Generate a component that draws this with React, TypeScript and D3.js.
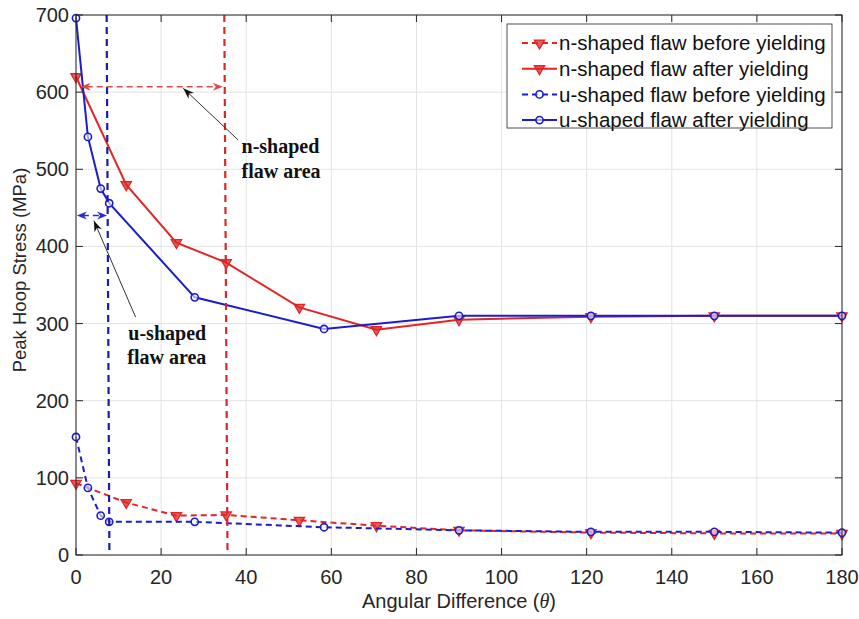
import React, { useRef, useEffect } from "react";
import * as d3 from "d3";

// angles (deg) and peak hoop stress (MPa)
const nAngles = [0, 11.8, 23.6, 35.3, 52.5, 70.6, 90, 121, 150, 180];
const nBefore = [93, 68, 51, 52, 45, 38, 32, 29, 28, 28];
const nAfter = [620, 480, 405, 379, 321, 292, 305, 309, 310, 310];

const uAngles = [0, 2.8, 5.8, 7.8, 27.9, 58.3, 90, 121, 150, 180];
const uBefore = [153, 87, 51, 43, 43, 36, 32, 30, 30, 29];
const uAfter = [696, 542, 475, 456, 334, 293, 310, 310, 310, 310];

const xTicks = [0, 20, 40, 60, 80, 100, 120, 140, 160, 180];
const yTicks = [0, 100, 200, 300, 400, 500, 600, 700];

const legendLabels = [
  "n-shaped flaw before yielding",
  "n-shaped flaw after yielding",
  "u-shaped flaw before yielding",
  "u-shaped flaw after yielding",
];

// flaw area limits (deg), top and bottom end of the dashed line
const nLimit = [34.85, 35.6];
const uLimit = [7.2, 7.85];

const RED = "#e02626";
const BLUE = "#1c1ccc";

function App() {
  const ref = useRef<SVGSVGElement>(null);

  const W = 859,
    H = 619;
  const margin = { top: 15, right: 17, bottom: 64, left: 76 };

  useEffect(() => {
    const svg = d3.select(ref.current);
    svg.selectAll("*").remove();

    const x = d3.scaleLinear().domain([0, 180]).range([margin.left, W - margin.right]);
    const y = d3.scaleLinear().domain([0, 700]).range([H - margin.bottom, margin.top]);
    const x0 = x(0), x1 = x(180), y0 = y(0), y1 = y(700);

    svg.append("rect").attr("width", W).attr("height", H).attr("fill", "#fff");

    // grid
    const grid = svg.append("g").attr("stroke", "#e3e3e3").attr("stroke-width", 1);
    xTicks.forEach((t) => {
      grid.append("line").attr("x1", x(t)).attr("x2", x(t)).attr("y1", y0).attr("y2", y1);
    });
    yTicks.forEach((t) => {
      grid.append("line").attr("x1", x0).attr("x2", x1).attr("y1", y(t)).attr("y2", y(t));
    });

    const series = [
      { xs: nAngles, ys: nBefore, color: RED, dash: "6,4", mark: "tri" },
      { xs: nAngles, ys: nAfter, color: RED, dash: null, mark: "tri" },
      { xs: uAngles, ys: uBefore, color: BLUE, dash: "6,4", mark: "circ" },
      { xs: uAngles, ys: uAfter, color: BLUE, dash: null, mark: "circ" },
    ];

    const tri = d3.symbol().type(d3.symbolTriangle).size(46);

    function drawMarker(g: any, mark: string, cx: number, cy: number, color: string) {
      if (mark === "tri") {
        g.append("path")
          .attr("d", tri())
          .attr("transform", `translate(${cx},${cy}) rotate(180)`)
          .attr("fill", color)
          .attr("fill-opacity", 0.75)
          .attr("stroke", color)
          .attr("stroke-width", 1.3);
      } else {
        g.append("circle")
          .attr("cx", cx)
          .attr("cy", cy)
          .attr("r", 3.6)
          .attr("fill", "#fff")
          .attr("fill-opacity", 0.6)
          .attr("stroke", color)
          .attr("stroke-width", 1.6);
      }
    }

    series.forEach((s) => {
      const g = svg.append("g");
      const pts: [number, number][] = s.xs.map((a, i) => [x(a), y(s.ys[i])]);
      g.append("path")
        .attr("d", d3.line()(pts))
        .attr("fill", "none")
        .attr("stroke", s.color)
        .attr("stroke-width", 2)
        .attr("stroke-dasharray", s.dash);
      pts.forEach((p) => drawMarker(g, s.mark, p[0], p[1], s.color));
    });

    // flaw limits
    svg.append("line")
      .attr("x1", x(nLimit[0])).attr("y1", y1)
      .attr("x2", x(nLimit[1])).attr("y2", y0)
      .attr("stroke", "#d42a2a").attr("stroke-width", 2.2).attr("stroke-dasharray", "7,5");
    svg.append("line")
      .attr("x1", x(uLimit[0])).attr("y1", y1)
      .attr("x2", x(uLimit[1])).attr("y2", y0)
      .attr("stroke", "#1c1caa").attr("stroke-width", 2.2).attr("stroke-dasharray", "7,5");

    function head(tx: number, ty: number, fx: number, fy: number, len: number, w: number) {
      const dx = tx - fx, dy = ty - fy;
      const n = Math.hypot(dx, dy);
      const ux = dx / n, uy = dy / n;
      const px = -uy, py = ux;
      const bx = tx - ux * len, by = ty - uy * len;
      const nx = tx - ux * len * 0.7, ny = ty - uy * len * 0.7;
      return `M${tx},${ty}L${bx + (px * w) / 2},${by + (py * w) / 2}L${nx},${ny}L${bx - (px * w) / 2},${by - (py * w) / 2}Z`;
    }

    function doubleArrow(a: number, b: number, v: number, color: string) {
      const xa = x(a), xb = x(b), yy = y(v);
      svg.append("line")
        .attr("x1", xa + 6).attr("x2", xb - 6).attr("y1", yy).attr("y2", yy)
        .attr("stroke", color).attr("stroke-width", 1.5).attr("stroke-dasharray", "6,4");
      svg.append("path").attr("d", head(xa, yy, xb, yy, 10, 8)).attr("fill", color);
      svg.append("path").attr("d", head(xb, yy, xa, yy, 10, 8)).attr("fill", color);
    }
    doubleArrow(1.1, 34.5, 607, "#e04848");
    doubleArrow(0.2, 7.3, 440, "#2a2ad8");

    function pointer(fa: number, fv: number, ta: number, tv: number) {
      const fx = x(fa), fy = y(fv), tx = x(ta), ty = y(tv);
      svg.append("line")
        .attr("x1", fx).attr("y1", fy).attr("x2", tx).attr("y2", ty)
        .attr("stroke", "#333").attr("stroke-width", 1);
      svg.append("path").attr("d", head(tx, ty, fx, fy, 11, 8)).attr("fill", "#111");
    }
    pointer(38.1, 538, 25.2, 605);
    pointer(14.0, 308.5, 4.2, 433.4);

    function note(a: number, v: number, txt: string) {
      svg.append("text")
        .attr("x", x(a)).attr("y", y(v))
        .attr("font-family", "'Liberation Serif', 'Times New Roman', serif")
        .attr("font-weight", "bold")
        .attr("font-size", 20)
        .attr("fill", "#111")
        .text(txt);
    }
    note(38.9, 521, "n-shaped");
    note(38.9, 489, "flaw area");
    note(12.3, 279, "u-shaped");
    note(12.05, 248, "flaw area");

    // axes box and ticks
    const ax = svg.append("g").attr("stroke", "#262626").attr("stroke-width", 1).attr("fill", "none");
    ax.append("rect").attr("x", x0).attr("y", y1).attr("width", x1 - x0).attr("height", y0 - y1);
    const tl = 7;
    xTicks.forEach((t) => {
      ax.append("line").attr("x1", x(t)).attr("x2", x(t)).attr("y1", y0).attr("y2", y0 - tl);
      ax.append("line").attr("x1", x(t)).attr("x2", x(t)).attr("y1", y1).attr("y2", y1 + tl);
    });
    yTicks.forEach((t) => {
      ax.append("line").attr("x1", x0).attr("x2", x0 + tl).attr("y1", y(t)).attr("y2", y(t));
      ax.append("line").attr("x1", x1).attr("x2", x1 - tl).attr("y1", y(t)).attr("y2", y(t));
    });

    const font = "'Liberation Sans', Arial, Helvetica, sans-serif";
    svg.append("g")
      .selectAll("text")
      .data(xTicks)
      .enter()
      .append("text")
      .attr("x", (d) => x(d))
      .attr("y", y0 + 29)
      .attr("text-anchor", "middle")
      .attr("font-family", font)
      .attr("font-size", 20)
      .attr("fill", "#262626")
      .text((d) => d);

    svg.append("g")
      .selectAll("text")
      .data(yTicks)
      .enter()
      .append("text")
      .attr("x", x0 - 7)
      .attr("y", (d) => y(d))
      .attr("dy", "0.35em")
      .attr("text-anchor", "end")
      .attr("font-family", font)
      .attr("font-size", 20)
      .attr("fill", "#262626")
      .text((d) => d);

    const xt = svg.append("text")
      .attr("x", (x0 + x1) / 2)
      .attr("y", y0 + 53)
      .attr("text-anchor", "middle")
      .attr("font-family", font)
      .attr("font-size", 20)
      .attr("fill", "#262626");
    xt.append("tspan").text("Angular Difference (");
    xt.append("tspan").attr("font-style", "italic").attr("font-family", "'Liberation Serif', serif").text("θ");
    xt.append("tspan").text(")");

    svg.append("text")
      .attr("transform", `translate(26,270) rotate(-90)`)
      .attr("text-anchor", "middle")
      .attr("font-family", font)
      .attr("font-size", 18.5)
      .attr("fill", "#262626")
      .text("Peak Hoop Stress (MPa)");

    // legend
    const lg = svg.append("g");
    lg.append("rect")
      .attr("x", 507).attr("y", 24).attr("width", 325).attr("height", 104)
      .attr("fill", "#fff").attr("stroke", "#262626").attr("stroke-width", 0.8);
    series.forEach((s, i) => {
      const cy = 43 + i * 25.7;
      lg.append("line")
        .attr("x1", 522).attr("x2", 557).attr("y1", cy).attr("y2", cy)
        .attr("stroke", s.color).attr("stroke-width", 2)
        .attr("stroke-dasharray", s.dash);
      drawMarker(lg, s.mark, 539.5, cy, s.color);
      lg.append("text")
        .attr("x", 559).attr("y", cy).attr("dy", "0.36em")
        .attr("font-family", font)
        .attr("font-size", 20.5)
        .attr("fill", "#111")
        .text(legendLabels[i]);
    });
  }, []);

  return (
    <svg
      ref={ref}
      width={W}
      height={H}
      style={{ position: "absolute", left: 0, top: 0 }}
    />
  );
}

export default App;
